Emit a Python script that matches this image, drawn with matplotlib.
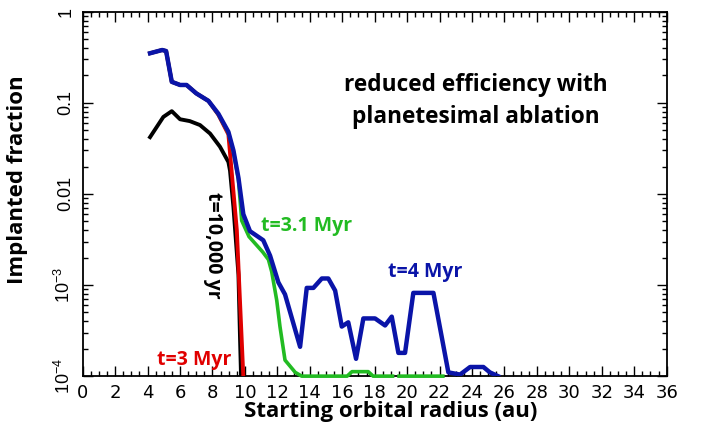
import numpy as np
import matplotlib
matplotlib.use('Agg')
import matplotlib.pyplot as plt
from matplotlib.ticker import MultipleLocator, FixedLocator, FixedFormatter, LogLocator, NullFormatter

# t=10,000 yr
x_black = [4.15, 4.97, 5.49, 6.0, 6.6, 7.23, 7.85, 8.46, 8.98, 9.08, 9.29, 9.6, 9.7, 9.76]
y_black = [0.042, 0.070, 0.081, 0.066, 0.063, 0.057, 0.046, 0.033, 0.0224, 0.018, 0.0072, 0.0013, 0.00025, 0.0001]

# t=3 Myr
x_red = [4.15, 4.9, 5.14, 5.49, 6.0, 6.4, 7.0, 7.75, 8.36, 8.98, 9.5, 9.9]
y_red = [0.35, 0.38, 0.37, 0.17, 0.157, 0.157, 0.127, 0.105, 0.074, 0.045, 0.004, 0.0001]

# t=3.1 Myr
x_green = [4.15, 4.9, 5.14, 5.49, 6.0, 6.4, 7.0, 7.75, 8.36, 8.98, 9.29, 9.6, 9.8, 10.25, 11.1,
           11.45, 11.65, 11.96, 12.16, 12.47, 13.1, 13.5, 15.9, 16.3, 16.6, 17.6, 17.9, 19.1,
           19.3, 19.5, 22.2]
y_green = [0.35, 0.38, 0.37, 0.17, 0.157, 0.157, 0.127, 0.105, 0.075, 0.047, 0.029, 0.0145, 0.0051,
           0.0034, 0.0023, 0.0019, 0.0014, 0.00068, 0.00035, 0.00015, 0.00011, 0.0001, 0.0001,
           0.0001, 0.000112, 0.000112, 0.0001, 0.0001, np.nan, 0.0001, 0.0001]

# t=4 Myr
x_blue = [4.15, 4.9, 5.14, 5.49, 6.0, 6.4, 7.0, 7.75, 8.36, 8.98, 9.29, 9.6, 9.9, 10.31, 11.13,
          11.55, 12.06, 12.47, 13.4, 13.81, 14.22, 14.74, 15.14, 15.56, 15.97, 16.37, 16.85,
          17.3, 18.02, 18.64, 19.05, 19.46, 19.87, 20.38, 21.62, 22.13, 22.54, 23.26, 23.88,
          24.7, 25.1, 25.6]
y_blue = [0.35, 0.38, 0.37, 0.17, 0.157, 0.157, 0.127, 0.105, 0.076, 0.048, 0.030, 0.015, 0.006,
          0.0039, 0.0031, 0.0021, 0.00107, 0.00079, 0.00021, 0.00093, 0.00093, 0.00118, 0.00118,
          0.00087, 0.00035, 0.00039, 0.000155, 0.00043, 0.00043, 0.00036, 0.00045, 0.00018,
          0.00018, 0.00082, 0.00082, 0.00027, 0.00011, 0.000104, 0.000126, 0.000126, 0.00011,
          0.0001]

y_ticks = [1e-4, 1e-3, 1e-2, 1e-1, 1]
y_ticklabels = ['$\\mathregular{10^{-4}}$', '$\\mathregular{10^{-3}}$', '0.01', '0.1', '1']

fnt = 'Open Sans'

fig = plt.figure(figsize=(7.07, 4.42), dpi=100)
ax = fig.add_axes([0.117, 0.149, 0.826, 0.8245])

ax.plot(x_black, y_black, color='black', lw=2.8, zorder=3)
ax.plot(x_red, y_red, color='#e00000', lw=2.8, zorder=3)
ax.plot(x_green, y_green, color='#22bb22', lw=2.6, zorder=3, clip_on=False)
ax.plot(x_blue, y_blue, color='#0a14a8', lw=3.2, zorder=4)

ax.set_yscale('log')
ax.set_xlim(0, 36)
ax.set_ylim(1e-4, 1)

ax.xaxis.set_major_locator(MultipleLocator(2))
ax.xaxis.set_minor_locator(MultipleLocator(0.5))
ax.yaxis.set_major_locator(FixedLocator(y_ticks))
ax.yaxis.set_major_formatter(FixedFormatter(y_ticklabels))
ax.yaxis.set_minor_locator(LogLocator(base=10, subs=np.arange(2, 10)))
ax.yaxis.set_minor_formatter(NullFormatter())

ax.tick_params(which='both', direction='in', top=True, right=True, width=1.0, color='black')
ax.tick_params(which='major', length=7)
ax.tick_params(which='minor', length=3.5)
ax.tick_params(axis='x', labelsize=13, pad=6)
ax.tick_params(axis='y', labelsize=13, pad=6)
for lab in ax.get_yticklabels():
  lab.set_rotation(90)
  lab.set_va('center')
  lab.set_family('Liberation Sans')
for sp in ax.spines.values():
  sp.set_linewidth(1.3)

ax.set_xlabel('Starting orbital radius (au)', fontsize=16, fontweight='bold', family=fnt)
ax.set_ylabel('Implanted fraction', fontsize=16, fontweight='bold', family=fnt)
ax.xaxis.set_label_coords(0.528, -0.068)
ax.yaxis.set_label_coords(-0.094, 0.538)

ax.text(0.673, 0.755, 'reduced efficiency with\nplanetesimal ablation', transform=ax.transAxes,
        ha='center', va='center', fontsize=16.3, fontweight='bold', family=fnt, linespacing=1.45)

ax.text(8.05, 2.7e-3, 't=10,000 yr', rotation=-90, ha='center', va='center',
        fontsize=14, fontweight='bold', family=fnt, color='black')
ax.text(6.9, 1.5e-4, 't=3 Myr', ha='center', va='center',
        fontsize=14, fontweight='bold', family=fnt, color='#e00000')
ax.text(13.8, 4.4e-3, 't=3.1 Myr', ha='center', va='center',
        fontsize=14, fontweight='bold', family=fnt, color='#22bb22')
ax.text(21.1, 1.4e-3, 't=4 Myr', ha='center', va='center',
        fontsize=14, fontweight='bold', family=fnt, color='#0a14a8')

fig.savefig('out.png', dpi=100)
